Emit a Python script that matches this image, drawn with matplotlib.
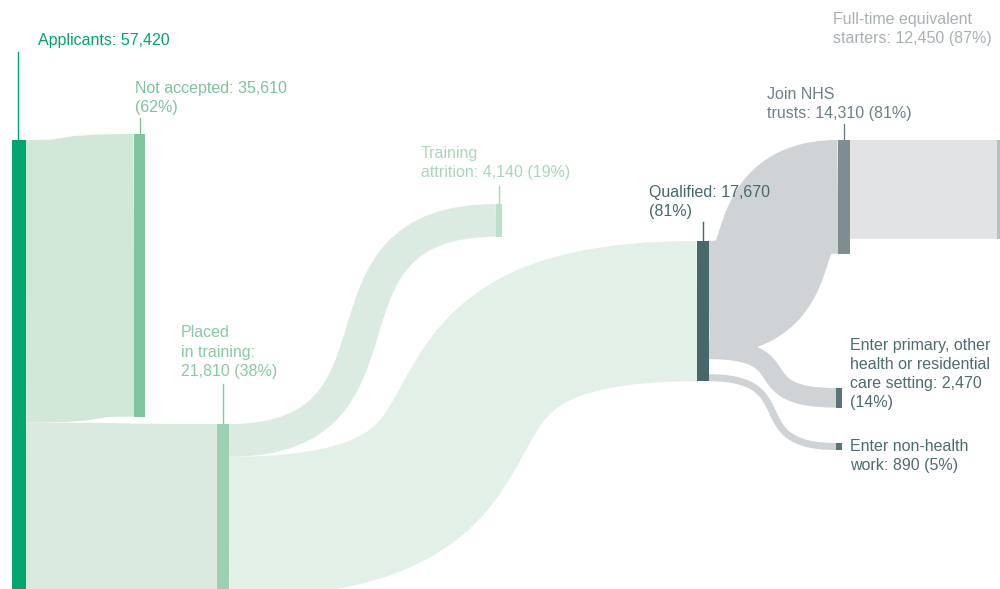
import matplotlib
matplotlib.use("Agg")
import matplotlib.pyplot as plt
from matplotlib.path import Path
from matplotlib.patches import PathPatch, Rectangle

plt.rcParams['font.family'] = ['Liberation Sans', 'DejaVu Sans']

# ---------------- data ----------------
node_names = ["Applicants", "Not accepted", "Placed in training", "Training attrition",
              "Qualified", "Join NHS trusts", "Full-time equivalent starters",
              "Enter primary, other health or residential care setting",
              "Enter non-health work"]
node_values = [57420, 35610, 21810, 4140, 17670, 14310, 12450, 2470, 890]

link_source = [0, 0, 2, 2, 4, 4, 4, 5]
link_target = [1, 2, 3, 4, 5, 7, 8, 6]
link_values = [35610, 21810, 4140, 17670, 14310, 2470, 890, 12450]

node_labels = [
    "Applicants: 57,420",
    "Not accepted: 35,610\n(62%)",
    "Placed\nin training:\n21,810 (38%)",
    "Training\nattrition: 4,140 (19%)",
    "Qualified: 17,670\n(81%)",
    "Join NHS\ntrusts: 14,310 (81%)",
    "Full-time equivalent\nstarters: 12,450 (87%)",
    "Enter primary, other\nhealth or residential\ncare setting: 2,470\n(14%)",
    "Enter non-health\nwork: 890 (5%)",
]

# ---------------- layout / style ----------------
W, H = 1000, 589
px_per_person = 1 / 126.0

node_x0 = [12, 134, 217, 496, 697, 838, 997, 836, 836]
node_w = [14, 11, 12, 6, 12, 12, 3, 6, 6]
node_top = [140, 134, 424, 204, 241, 140, 140, 388, 443]
node_colors = ["#00a66d", "#80c4a0", "#9dcfb3", "#bedfca", "#46686b",
               "#7f8d90", "#b8bec2", "#587679", "#587679"]
link_colors = ["#d1e7d8", "#daeae0", "#dcebe2", "#e3f0e7", "#d0d3d6",
               "#d0d3d6", "#d0d3d6", "#e2e3e5"]
link_src_shift = [0, 0, 0, 0, 0, -15, 0, 0]
curv = 0.75  # control-point position along each link

label_xy = [(38, 40), (135, 98), (181, 352), (421, 163), (649, 202),
            (767, 104), (833, 29), (850, 374), (850, 456)]
label_colors = ["#00a66d", "#7cc39c", "#88c9a4", "#a9d6ba", "#46686b",
                "#6d8084", "#a9b0b4", "#4f6b6e", "#4f6b6e"]
tick_x = [18, 140, 223, 499, 703, 844, None, None, None]
tick_top = [52, 118, 384, 186, 222, 124, None, None, None]

fig = plt.figure(figsize=(W / 100, H / 100), dpi=100)
ax = fig.add_axes([0, 0, 1, 1])
ax.set_xlim(0, W)
ax.set_ylim(H, 0)
ax.axis("off")

node_h = [v * px_per_person for v in node_values]
src_off = [0.0] * len(node_values)
tgt_off = [0.0] * len(node_values)

PT = 72 / 100.0
for i, (s, t, v) in enumerate(zip(link_source, link_target, link_values)):
    w = v * px_per_person
    sy = node_top[s] + src_off[s] + w / 2 + link_src_shift[i]
    ty = node_top[t] + tgt_off[t] + w / 2
    src_off[s] += w
    tgt_off[t] += w
    x0 = node_x0[s] + node_w[s]
    x1 = node_x0[t]
    dx = x1 - x0
    path = Path([(x0, sy), (x0 + curv * dx, sy), (x1 - curv * dx, ty), (x1, ty)],
                [Path.MOVETO, Path.CURVE4, Path.CURVE4, Path.CURVE4])
    ax.add_patch(PathPatch(path, fill=False, edgecolor=link_colors[i],
                           linewidth=w * PT, capstyle="butt", joinstyle="round",
                           zorder=1))

for i in range(len(node_values)):
    ax.add_patch(Rectangle((node_x0[i], node_top[i]), node_w[i], node_h[i],
                           facecolor=node_colors[i], edgecolor="none", zorder=3))
    if tick_x[i] is not None:
        ax.plot([tick_x[i], tick_x[i]], [tick_top[i], node_top[i]],
                color=label_colors[i], lw=1.0, zorder=2)
    ax.text(label_xy[i][0], label_xy[i][1], node_labels[i], color=label_colors[i],
            fontsize=11.5, ha="left", va="center", linespacing=1.35, zorder=4)

fig.savefig("out.png", dpi=100)
